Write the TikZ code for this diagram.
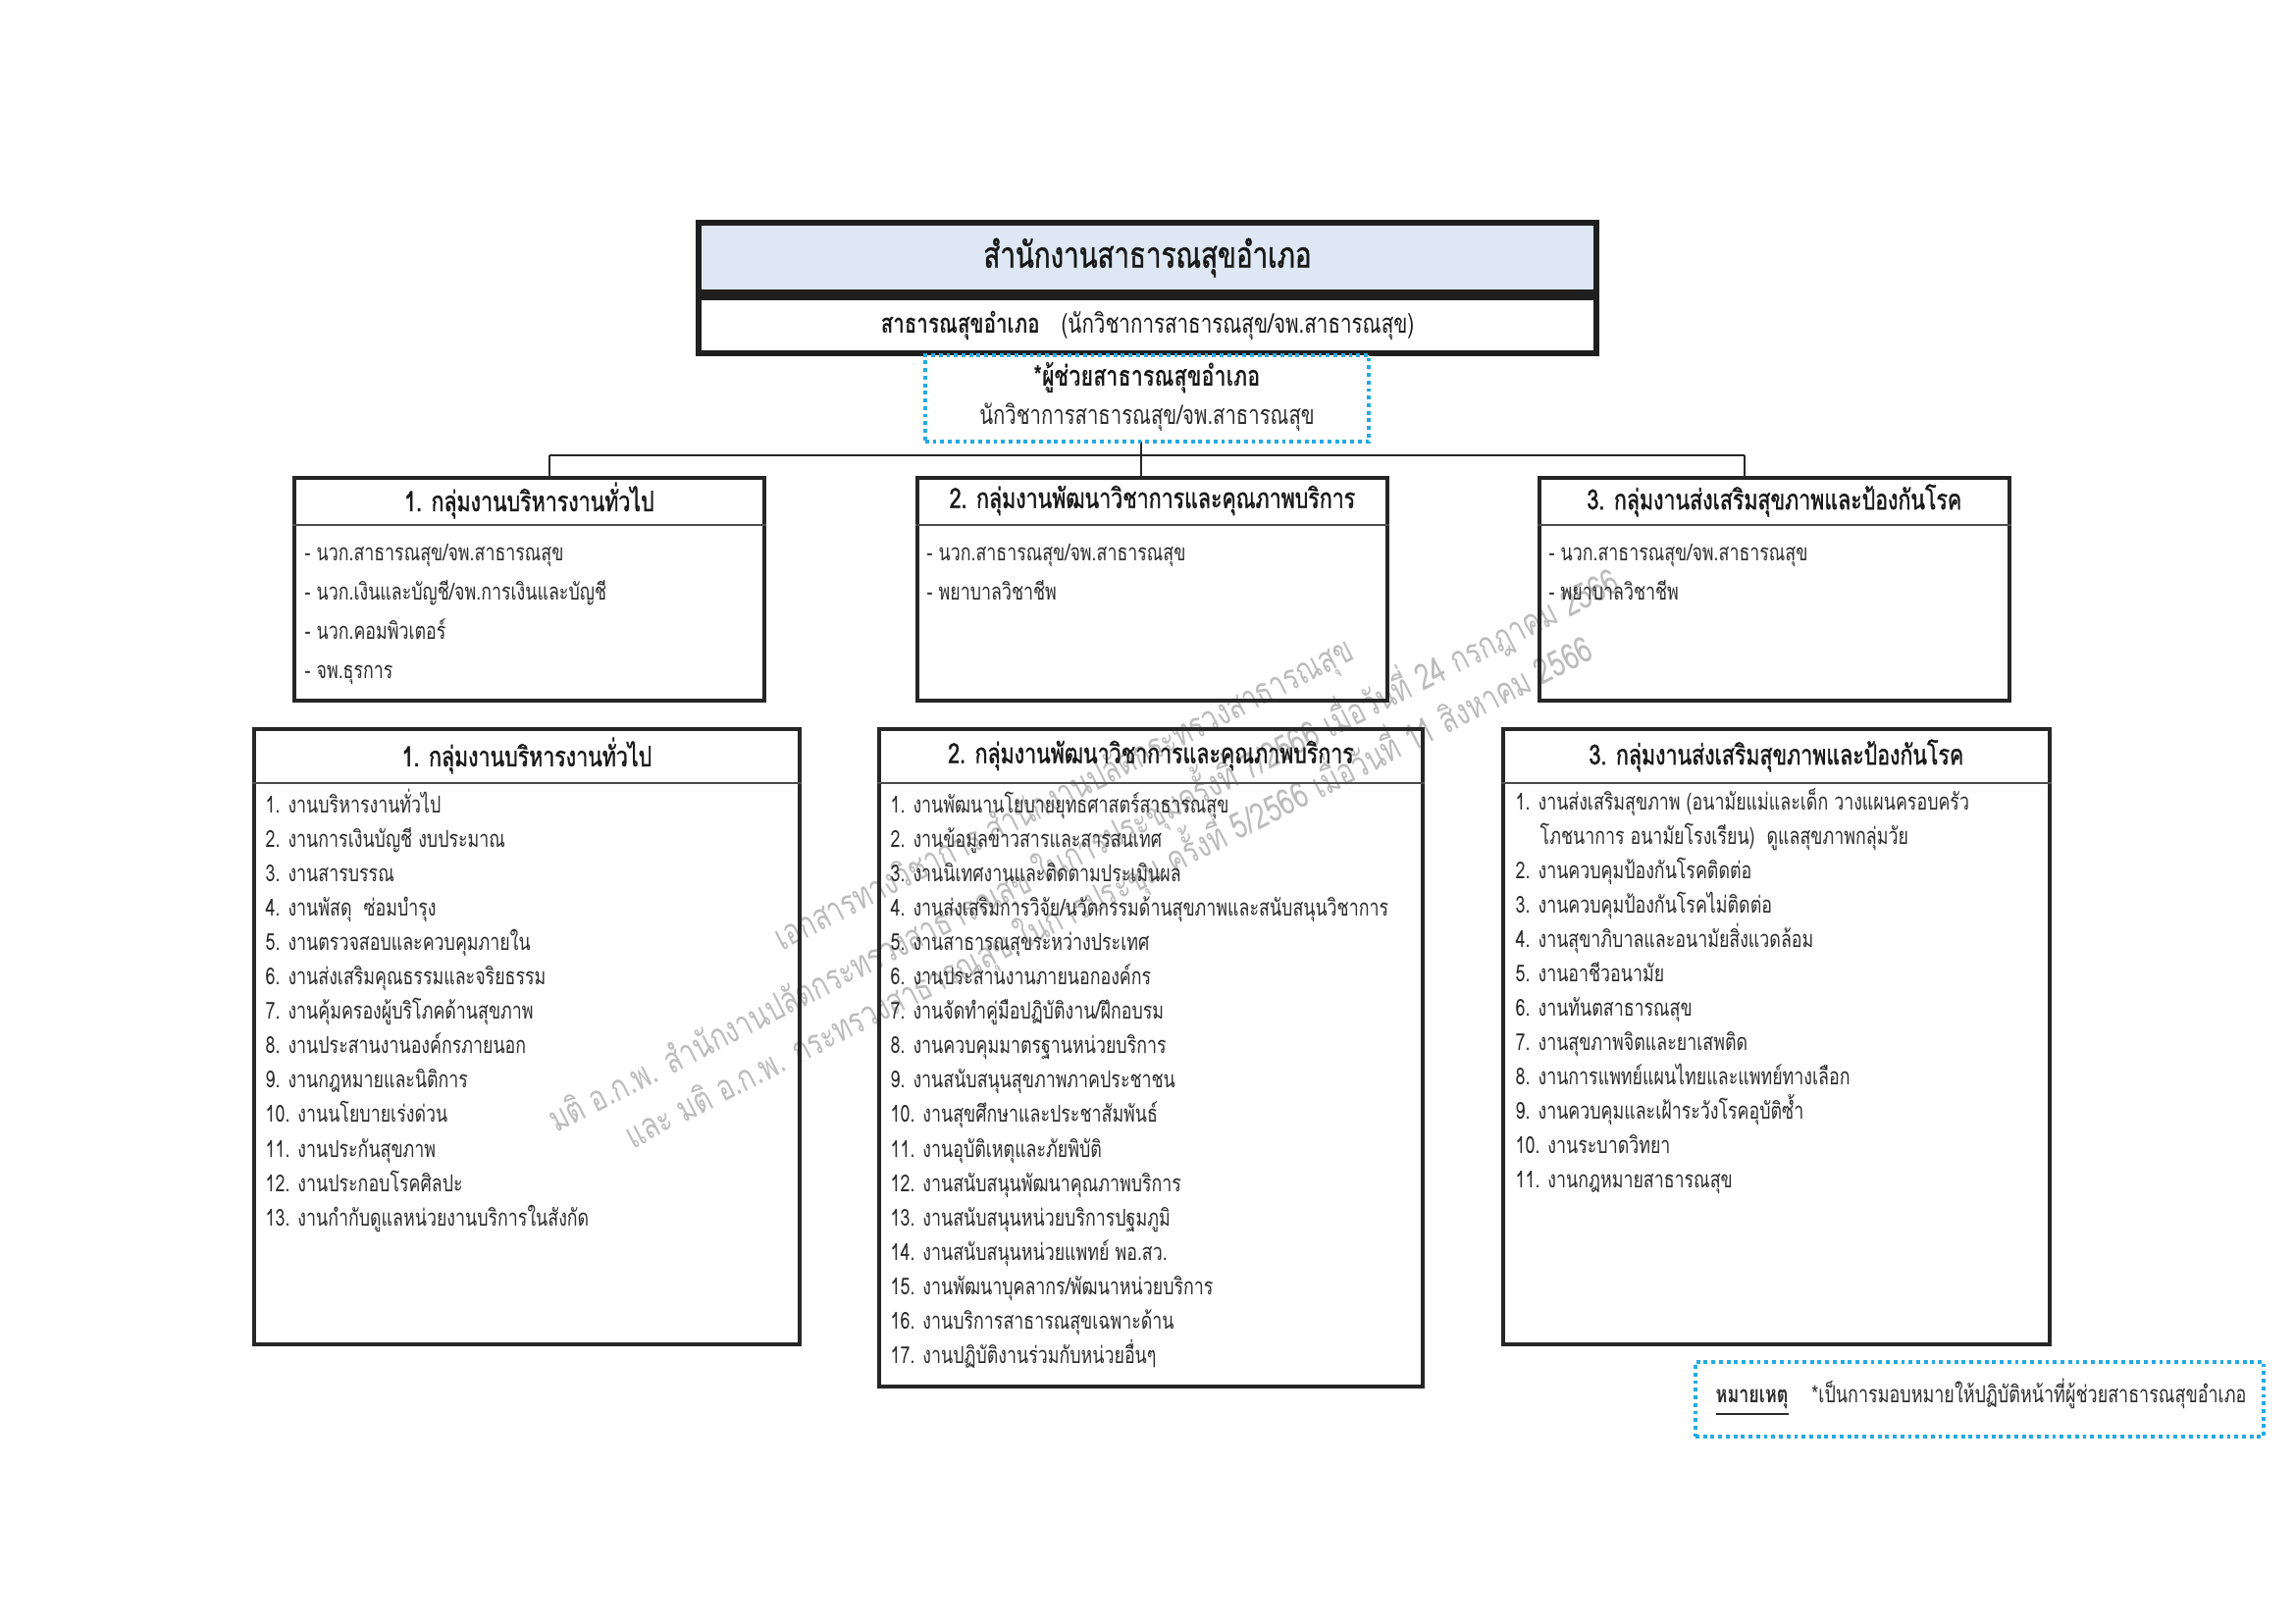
\documentclass[tikz,border=0pt]{standalone}
\usepackage{fontspec}
\setmainfont[Script=Thai,FakeStretch=0.75]{Loma}
\definecolor{dotblue}{RGB}{38,169,225}
\definecolor{headfill}{RGB}{222,232,245}
\definecolor{txt}{RGB}{45,45,45}
\definecolor{wm}{RGB}{188,188,188}
\newcommand{\tsz}[1]{\fontsize{#1}{#1}\selectfont}
\newcommand{\hdfont}{\tsz{8.1}\addfontfeature{FakeBold=1.2}}
\newcommand{\ttlfont}{\tsz{10.5}\addfontfeature{FakeBold=1.2}}
\begin{document}
\begin{tikzpicture}[x=0.01cm,y=-0.01cm,
  frame/.style={draw=black!88, line width=1.6pt, inner sep=0pt},
  grp/.style={draw=black!85, line width=1.0pt, inner sep=0pt, anchor=north west},
  div/.style={draw=black!70, line width=0.5pt},
  conn/.style={draw=black!85, line width=0.6pt},
  dotbox/.style={draw=dotblue, line width=1.1pt, dash pattern=on 1.1pt off 1.1pt, fill=white, inner sep=0pt},
  head/.style={inner sep=0pt, font=\hdfont, text=black!90},
  item/.style={inner sep=0pt, anchor=base west, font=\tsz{6.75}, text=txt},
  wmark/.style={inner sep=0pt, rotate=27, font=\tsz{10.4}, text=wm},
]
\useasboundingbox[fill=white] (0,0) rectangle (2339,1654);

% watermark
\node[wmark] (wm1) at (1085,811) {เอกสารทางวิชาการ สำนักงานปลัดกระทรวงสาธารณสุข};
\node[wmark] (wm2) at (1104,865) {มติ อ.ก.พ. สำนักงานปลัดกระทรวงสาธารณสุข ในการประชุมครั้งที่ 7/2566 เมื่อวันที่ 24 กรกฎาคม 2566};
\node[wmark] (wm3) at (1129,908) {และ มติ อ.ก.พ. กระทรวงสาธารณสุข ในการประชุม ครั้งที่ 5/2566 เมื่อวันที่ 11 สิงหาคม 2566};

% top box
\node[frame, fill=headfill, minimum width=9.15cm, minimum height=0.71cm, font=\ttlfont, text=black!90] (top) at (1169.5,262.5) {สำนักงานสาธารณสุขอำเภอ};
\node[frame, minimum width=9.15cm, minimum height=0.56cm, font=\tsz{7.8}, text=black!90, anchor=north] (topsub) at (top.south) {\textbf{สาธารณสุขอำเภอ}\hspace{0.8em}(นักวิชาการสาธารณสุข/จพ.สาธารณสุข)};

% connectors
\coordinate (busL) at (560,464);
\coordinate (busM) at (1163,464);
\coordinate (busR) at (1778,464);
\draw[conn] (topsub.south -| busM) -- (busM);
\draw[conn] (busL) -- (busR);

% assistant
\node[dotbox, minimum width=4.52cm, minimum height=0.88cm] (asst) at (1169,406) {};
\node[inner sep=0pt, font=\tsz{8.2}\bfseries, text=black!90] (asst1) at (1169,385) {*ผู้ช่วยสาธารณสุขอำเภอ};
\node[inner sep=0pt, font=\tsz{7.7}, text=txt] (asst2) at (1169,425) {นักวิชาการสาธารณสุข/จพ.สาธารณสุข};

% upper boxes
\node[grp, minimum width=4.79cm, minimum height=2.27cm] (A) at (298,485) {};
\node[grp, minimum width=4.79cm, minimum height=2.27cm] (B) at (933,485) {};
\node[grp, minimum width=4.79cm, minimum height=2.27cm] (C) at (1567,485) {};
\draw[conn] (busL) -- (A.north -| busL);
\draw[conn] (busM) -- (B.north -| busM);
\draw[conn] (busR) -- (C.north -| busR);
\foreach \b in {A,B,C}{
  \draw[div] ([yshift=-0.5cm]\b.north west) -- ([yshift=-0.5cm]\b.north east);
}
\node[head] (Ah) at ([yshift=-0.25cm]A.north) {1. กลุ่มงานบริหารงานทั่วไป};
\node[head] (Bh) at ([yshift=-0.25cm]B.north) {2. กลุ่มงานพัฒนาวิชาการและคุณภาพบริการ};
\node[head] (Ch) at ([yshift=-0.25cm]C.north) {3. กลุ่มงานส่งเสริมสุขภาพและป้องกันโรค};

\foreach \t [count=\i] in {- นวก.สาธารณสุข/จพ.สาธารณสุข, - นวก.เงินและบัญชี/จพ.การเงินและบัญชี, - นวก.คอมพิวเตอร์, - จพ.ธุรการ}
  \node[item] (Ai\i) at (310,{571+40.3*(\i-1)}) {\t};
\foreach \t [count=\i] in {- นวก.สาธารณสุข/จพ.สาธารณสุข, - พยาบาลวิชาชีพ}
  \node[item] (Bi\i) at (944,{571+40.3*(\i-1)}) {\t};
\foreach \t [count=\i] in {- นวก.สาธารณสุข/จพ.สาธารณสุข, - พยาบาลวิชาชีพ}
  \node[item] (Ci\i) at (1578,{571+40.3*(\i-1)}) {\t};

% lower boxes
\node[grp, minimum width=5.56cm, minimum height=6.27cm] (D) at (257,741) {};
\node[grp, minimum width=5.54cm, minimum height=6.70cm] (E) at (894,741) {};
\node[grp, minimum width=5.57cm, minimum height=6.27cm] (F) at (1530,741) {};
\foreach \b in {D,E,F}{
  \draw[div] ([yshift=-0.57cm]\b.north west) -- ([yshift=-0.57cm]\b.north east);
}
\node[head] (Dh) at ([yshift=-0.29cm]D.north) {1. กลุ่มงานบริหารงานทั่วไป};
\node[head] (Eh) at ([yshift=-0.29cm]E.north) {2. กลุ่มงานพัฒนาวิชาการและคุณภาพบริการ};
\node[head] (Fh) at ([yshift=-0.29cm]F.north) {3. กลุ่มงานส่งเสริมสุขภาพและป้องกันโรค};

\foreach \t [count=\i] in {1. งานบริหารงานทั่วไป, 2. งานการเงินบัญชี งบประมาณ, 3. งานสารบรรณ, 4. งานพัสดุ\ \ ซ่อมบำรุง, 5. งานตรวจสอบและควบคุมภายใน, 6. งานส่งเสริมคุณธรรมและจริยธรรม, 7. งานคุ้มครองผู้บริโภคด้านสุขภาพ, 8. งานประสานงานองค์กรภายนอก, 9. งานกฎหมายและนิติการ, 10. งานนโยบายเร่งด่วน, 11. งานประกันสุขภาพ, 12. งานประกอบโรคศิลปะ, 13. งานกำกับดูแลหน่วยงานบริการในสังกัด}
  \node[item] (Di\i) at (270,{828+35.1*(\i-1)}) {\t};

\foreach \t [count=\i] in {1. งานพัฒนานโยบายยุทธศาสตร์สาธารณสุข, 2. งานข้อมูลข่าวสารและสารสนเทศ, 3. งานนิเทศงานและติดตามประเมินผล, 4. งานส่งเสริมการวิจัย/นวัตกรรมด้านสุขภาพและสนับสนุนวิชาการ, 5. งานสาธารณสุขระหว่างประเทศ, 6. งานประสานงานภายนอกองค์กร, 7. งานจัดทำคู่มือปฏิบัติงาน/ฝึกอบรม, 8. งานควบคุมมาตรฐานหน่วยบริการ, 9. งานสนับสนุนสุขภาพภาคประชาชน, 10. งานสุขศึกษาและประชาสัมพันธ์, 11. งานอุบัติเหตุและภัยพิบัติ, 12. งานสนับสนุนพัฒนาคุณภาพบริการ, 13. งานสนับสนุนหน่วยบริการปฐมภูมิ, 14. งานสนับสนุนหน่วยแพทย์ พอ.สว., 15. งานพัฒนาบุคลากร/พัฒนาหน่วยบริการ, 16. งานบริการสาธารณสุขเฉพาะด้าน, 17. งานปฏิบัติงานร่วมกับหน่วยอื่นๆ}
  \node[item] (Ei\i) at (907,{828+35.1*(\i-1)}) {\t};

\foreach \t [count=\i] in {1. งานส่งเสริมสุขภาพ (อนามัยแม่และเด็ก วางแผนครอบครัว, \hspace{0.25cm}โภชนาการ อนามัยโรงเรียน)\ \ ดูแลสุขภาพกลุ่มวัย, 2. งานควบคุมป้องกันโรคติดต่อ, 3. งานควบคุมป้องกันโรคไม่ติดต่อ, 4. งานสุขาภิบาลและอนามัยสิ่งแวดล้อม, 5. งานอาชีวอนามัย, 6. งานทันตสาธารณสุข, 7. งานสุขภาพจิตและยาเสพติด, 8. งานการแพทย์แผนไทยและแพทย์ทางเลือก, 9. งานควบคุมและเฝ้าระวังโรคอุบัติซ้ำ, 10. งานระบาดวิทยา, 11. งานกฎหมายสาธารณสุข}
  \node[item] (Fi\i) at (1544,{825+35*(\i-1)}) {\t};

% note
\node[dotbox, minimum width=5.79cm, minimum height=0.76cm, anchor=north west] (note) at (1726,1386) {};
\node[inner sep=0pt, anchor=west, font=\tsz{6.8}, text=txt] (notetxt) at (1748,1424) {\textbf{\underline{หมายเหตุ}}\hspace{1em}*เป็นการมอบหมายให้ปฏิบัติหน้าที่ผู้ช่วยสาธารณสุขอำเภอ};
\end{tikzpicture}
\end{document}
